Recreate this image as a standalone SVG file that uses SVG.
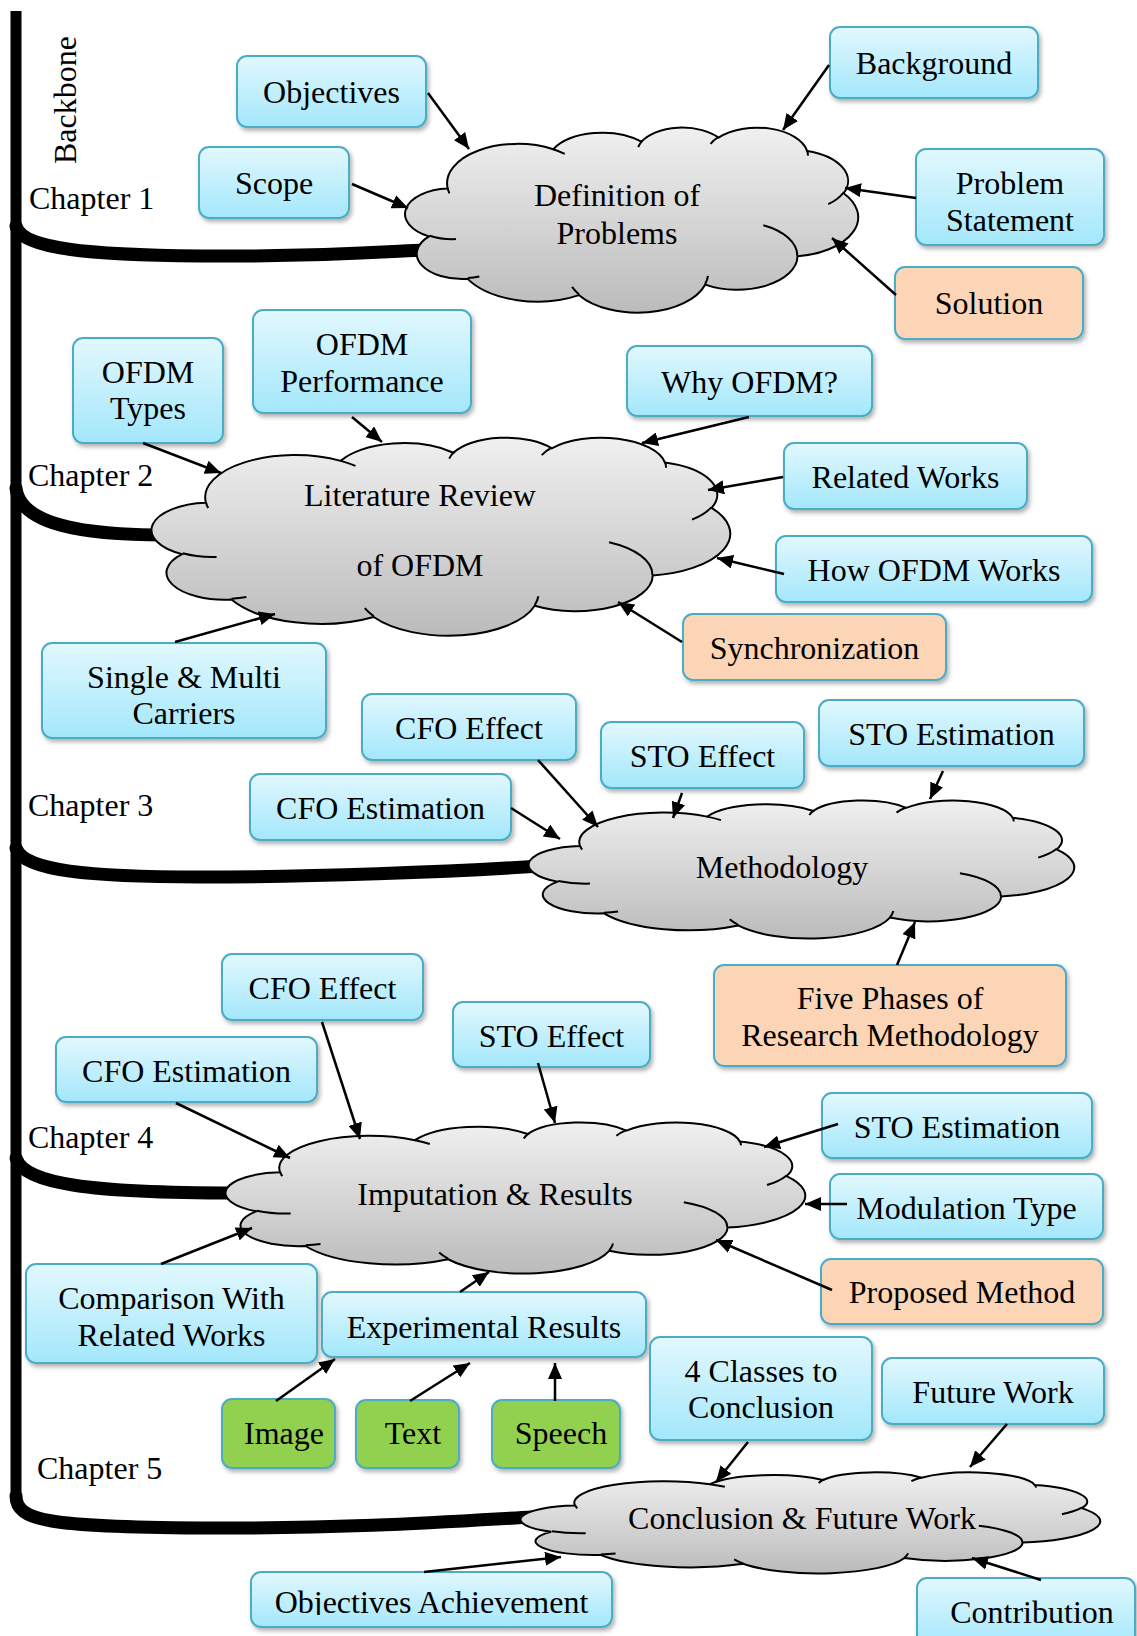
<svg xmlns="http://www.w3.org/2000/svg" width="1137" height="1636" viewBox="0 0 1137 1636">
<defs>
  <linearGradient id="gBlue" x1="0" y1="0" x2="0" y2="1">
    <stop offset="0" stop-color="#E2F8FE"/>
    <stop offset="1" stop-color="#A3E7FB"/>
  </linearGradient>
  <linearGradient id="gCloud" x1="0" y1="0" x2="0" y2="1">
    <stop offset="0" stop-color="#F0F0F0"/>
    <stop offset="1" stop-color="#BBBBBB"/>
  </linearGradient>
  <filter id="shadow" x="-10%" y="-15%" width="125%" height="150%">
    <feDropShadow dx="2" dy="3" stdDeviation="2" flood-color="#000" flood-opacity="0.3"/>
  </filter>
  <marker id="arrow" viewBox="0 0 16 14" refX="16" refY="7" markerWidth="16" markerHeight="14" orient="auto" markerUnits="userSpaceOnUse">
    <path d="M0,0 L16,7 L0,14 Z" fill="#000"/>
  </marker>
  <!-- cloud outline drawn in a 432 x 432 box, scaled per cloud -->
  <g id="cloudShape">
    <path fill="url(#gCloud)" stroke="#000" stroke-width="2" vector-effect="non-scaling-stroke"
      d="M39,143.7 A67.53,91.9 0 0 1 140.06,52.02 A53.33,72.67 0 0 1 224.57,34.33 A43.65,59.45 0 0 1 298.34,24.82 A48.57,65.95 0 0 1 383.19,55.78 A53.33,72.73 0 0 1 418.19,154.62 A67.75,92.2 0 0 1 374.05,302.04 A57.85,78.67 0 0 1 285.56,368.15 A67.52,92.15 0 0 1 164.81,392.67 A77.2,105.43 0 0 1 58.04,354.72 A43.6,59.18 0 0 1 21.13,255.51 A43.45,59.45 0 0 1 39,143.7 Z"/>
    <path fill="none" stroke="#000" stroke-width="2" vector-effect="non-scaling-stroke"
      d="M46.93,261.77 A43.45,59.45 0 0 1 21.6,253.8 M69.28,348.99 A43.6,59.18 0 0 1 58.19,352.81 M164.78,390.9 A67.52,92.15 0 0 1 158.1,373.5 M288.27,347.51 A67.52,92.15 0 0 1 285.6,366.6 M341.29,229.54 A57.85,78.67 0 0 1 373.81,300.9 M417.98,153.54 A53.33,72.73 0 0 1 403.5,180.31 M383.24,54.26 A48.57,65.95 0 0 1 384,66.9 M290.78,39.52 A48.57,65.95 0 0 1 298.21,23.38 M221.41,47.2 A43.65,59.45 0 0 1 225.55,31.85 M140.06,52.02 A67.53,91.9 0 0 1 151.1,63 M40.68,155.1 A67.53,91.9 0 0 1 39,143.7"/>
  </g>
  <clipPath id="clipAch"><rect x="240" y="1560" width="400" height="55"/></clipPath>
</defs>
<style>
  text { font-family: "Liberation Serif", "Times New Roman", serif; font-size: 32px; fill: #000; }
  .box text, .cloud text { text-anchor: middle; }
  .box rect { stroke: #4BACC6; stroke-width: 2; filter: url(#shadow); }
  .blue rect { fill: url(#gBlue); }
  .orange rect { fill: #FBD5B5; }
  .green rect { fill: #92D050; }
  .branch { fill: none; stroke: #000; stroke-width: 13; stroke-linecap: round; }
  .spine { fill: none; stroke: #000; stroke-width: 11; }
  #connectors line { stroke: #000; stroke-width: 2.5; marker-end: url(#arrow); }
</style>

<rect width="1137" height="1636" fill="#fff"/>

<!-- backbone and chapter branches -->
<g id="backbone">
  <path class="spine" d="M16,11 L16,1500"/>
  <path class="branch" d="M16,226 C22,249 90,255 200,256 S380,252 425,250"/>
  <path class="branch" d="M16,488 C20,524 80,535 165,535"/>
  <path class="branch" d="M16,848 C24,871 90,877 200,877 S450,872 540,866"/>
  <path class="branch" d="M16,1158 C24,1184 90,1193 236,1193"/>
  <path class="branch" d="M16,1496 C16,1521 50,1527 200,1528 S460,1521 532,1517"/>
</g>

<g id="labels">
  <text transform="translate(76,100) rotate(-90)" text-anchor="middle">Backbone</text>
  <text x="29" y="209">Chapter 1</text>
  <text x="28" y="486">Chapter 2</text>
  <text x="28" y="816">Chapter 3</text>
  <text x="28" y="1148">Chapter 4</text>
  <text x="37" y="1479">Chapter 5</text>
</g>

<!-- chapter clouds -->
<g id="cloud-definition" class="cloud">
  <use href="#cloudShape" transform="translate(407,127) scale(1.04398,0.42824)"/>
  <text x="617" y="206">Definition of</text>
  <text x="617" y="244">Problems</text>
</g>
<g id="cloud-literature" class="cloud">
  <use href="#cloudShape" transform="translate(154,437) scale(1.33333,0.45833)"/>
  <text x="420" y="506">Literature Review</text>
  <text x="420" y="576">of OFDM</text>
</g>
<g id="cloud-methodology" class="cloud">
  <use href="#cloudShape" transform="translate(531,800) scale(1.25694,0.31944)"/>
  <text x="782" y="878">Methodology</text>
</g>
<g id="cloud-imputation" class="cloud">
  <use href="#cloudShape" transform="translate(228,1122) scale(1.33565,0.34954)"/>
  <text x="495" y="1205">Imputation &amp; Results</text>
</g>
<g id="cloud-conclusion" class="cloud">
  <use href="#cloudShape" transform="translate(523,1472) scale(1.33565,0.2338)"/>
  <text x="802" y="1529">Conclusion &amp; Future Work</text>
</g>

<!-- chapter 1 topics -->
<g id="objectives" class="box blue"><rect x="237" y="56" width="189" height="71" rx="10"/><text x="331.5" y="103">Objectives</text></g>
<g id="scope" class="box blue"><rect x="199" y="147" width="150" height="71" rx="10"/><text x="274" y="194">Scope</text></g>
<g id="background" class="box blue"><rect x="830" y="27" width="208" height="71" rx="10"/><text x="934" y="74">Background</text></g>
<g id="problem-statement" class="box blue"><rect x="916" y="149" width="188" height="96" rx="10"/><text x="1010" y="194">Problem</text><text x="1010" y="231">Statement</text></g>
<g id="solution" class="box orange"><rect x="895" y="267" width="188" height="72" rx="10"/><text x="989" y="314">Solution</text></g>

<!-- chapter 2 topics -->
<g id="ofdm-types" class="box blue"><rect x="73" y="338" width="150" height="105" rx="10"/><text x="148" y="383">OFDM</text><text x="148" y="419">Types</text></g>
<g id="ofdm-performance" class="box blue"><rect x="253" y="310" width="218" height="103" rx="10"/><text x="362" y="355">OFDM</text><text x="362" y="392">Performance</text></g>
<g id="single-multi" class="box blue"><rect x="42" y="643" width="284" height="95" rx="10"/><text x="184" y="688">Single &amp; Multi</text><text x="184" y="724">Carriers</text></g>
<g id="why-ofdm" class="box blue"><rect x="627" y="346" width="245" height="70" rx="10"/><text x="749.5" y="393">Why OFDM?</text></g>
<g id="related-works" class="box blue"><rect x="784" y="443" width="243" height="66" rx="10"/><text x="905.5" y="488">Related Works</text></g>
<g id="how-ofdm-works" class="box blue"><rect x="776" y="536" width="316" height="66" rx="10"/><text x="934" y="581">How OFDM Works</text></g>
<g id="synchronization" class="box orange"><rect x="683" y="614" width="263" height="66" rx="10"/><text x="814.5" y="659">Synchronization</text></g>

<!-- chapter 3 topics -->
<g id="cfo-effect-3" class="box blue"><rect x="362" y="694" width="214" height="66" rx="10"/><text x="469" y="739">CFO Effect</text></g>
<g id="sto-effect-3" class="box blue"><rect x="601" y="722" width="203" height="66" rx="10"/><text x="702.5" y="767">STO Effect</text></g>
<g id="sto-estimation-3" class="box blue"><rect x="819" y="700" width="265" height="66" rx="10"/><text x="951.5" y="745">STO Estimation</text></g>
<g id="cfo-estimation-3" class="box blue"><rect x="250" y="774" width="261" height="66" rx="10"/><text x="380.5" y="819">CFO Estimation</text></g>
<g id="five-phases" class="box orange"><rect x="714" y="965" width="352" height="101" rx="10"/><text x="890" y="1009">Five Phases of</text><text x="890" y="1046">Research Methodology</text></g>

<!-- chapter 4 topics -->
<g id="cfo-effect-4" class="box blue"><rect x="222" y="954" width="201" height="66" rx="10"/><text x="322.5" y="999">CFO Effect</text></g>
<g id="sto-effect-4" class="box blue"><rect x="453" y="1002" width="197" height="65" rx="10"/><text x="551.5" y="1047">STO Effect</text></g>
<g id="cfo-estimation-4" class="box blue"><rect x="56" y="1037" width="261" height="65" rx="10"/><text x="186.5" y="1082">CFO Estimation</text></g>
<g id="sto-estimation-4" class="box blue"><rect x="822" y="1093" width="270" height="65" rx="10"/><text x="957" y="1138">STO Estimation</text></g>
<g id="modulation-type" class="box blue"><rect x="830" y="1174" width="273" height="65" rx="10"/><text x="966.5" y="1219">Modulation Type</text></g>
<g id="proposed-method" class="box orange"><rect x="821" y="1259" width="282" height="65" rx="10"/><text x="962" y="1303">Proposed Method</text></g>
<g id="comparison" class="box blue"><rect x="26" y="1264" width="291" height="99" rx="10"/><text x="171.5" y="1309">Comparison With</text><text x="171.5" y="1346">Related Works</text></g>
<g id="experimental-results" class="box blue"><rect x="322" y="1292" width="324" height="65" rx="10"/><text x="484" y="1338">Experimental Results</text></g>
<g id="image" class="box green"><rect x="222" y="1399" width="113" height="69" rx="10"/><text x="284" y="1444">Image</text></g>
<g id="text" class="box green"><rect x="356" y="1400" width="103" height="68" rx="10"/><text x="413" y="1444">Text</text></g>
<g id="speech" class="box green"><rect x="492" y="1400" width="128" height="68" rx="10"/><text x="561" y="1444">Speech</text></g>

<!-- chapter 5 topics -->
<g id="four-classes" class="box blue"><rect x="650" y="1337" width="222" height="103" rx="10"/><text x="761" y="1382">4 Classes to</text><text x="761" y="1418">Conclusion</text></g>
<g id="future-work" class="box blue"><rect x="882" y="1358" width="222" height="66" rx="10"/><text x="993" y="1403">Future Work</text></g>
<g id="objectives-achievement" class="box blue"><rect x="251" y="1572" width="361" height="55" rx="10"/><text x="431.5" y="1613" clip-path="url(#clipAch)">Objectives Achievement</text></g>
<g id="contribution" class="box blue"><rect x="917" y="1578" width="218" height="70" rx="10"/><text x="1032" y="1623">Contribution</text></g>

<!-- arrows from topics to their chapter cloud -->
<g id="connectors">
  <line x1="428" y1="93" x2="469" y2="149"/>
  <line x1="352" y1="184" x2="408" y2="208"/>
  <line x1="829" y1="65" x2="783" y2="130"/>
  <line x1="916" y1="198" x2="845" y2="188"/>
  <line x1="896" y1="295" x2="832" y2="238"/>

  <line x1="143" y1="443" x2="221" y2="473"/>
  <line x1="352" y1="417" x2="382" y2="442"/>
  <line x1="175" y1="642" x2="275" y2="614"/>
  <line x1="749" y1="417" x2="642" y2="443"/>
  <line x1="783" y1="477" x2="708" y2="490"/>
  <line x1="784" y1="574" x2="717" y2="558"/>
  <line x1="682" y1="642" x2="618" y2="602"/>

  <line x1="538" y1="760" x2="598" y2="827"/>
  <line x1="682" y1="793" x2="673" y2="818"/>
  <line x1="943" y1="771" x2="930" y2="799"/>
  <line x1="511" y1="808" x2="560" y2="839"/>
  <line x1="897" y1="965" x2="915" y2="922"/>

  <line x1="322" y1="1022" x2="360" y2="1139"/>
  <line x1="538" y1="1063" x2="555" y2="1123"/>
  <line x1="176" y1="1103" x2="290" y2="1158"/>
  <line x1="838" y1="1124" x2="764" y2="1147"/>
  <line x1="847" y1="1204" x2="805" y2="1204"/>
  <line x1="832" y1="1290" x2="716" y2="1240"/>
  <line x1="161" y1="1264" x2="252" y2="1228"/>
  <line x1="460" y1="1292" x2="489" y2="1272"/>

  <line x1="276" y1="1401" x2="335" y2="1359"/>
  <line x1="410" y1="1401" x2="470" y2="1363"/>
  <line x1="555" y1="1401" x2="555" y2="1363"/>

  <line x1="748" y1="1442" x2="716" y2="1482"/>
  <line x1="1007" y1="1424" x2="970" y2="1467"/>
  <line x1="424" y1="1572" x2="561" y2="1557"/>
  <line x1="1041" y1="1580" x2="972" y2="1558"/>
</g>
</svg>
